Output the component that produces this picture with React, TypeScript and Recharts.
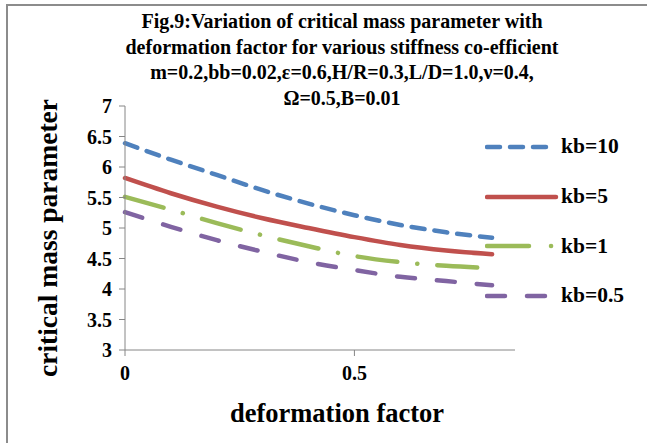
import { LineChart, Line, XAxis, YAxis, Legend } from 'recharts'

const FONT = '"Liberation Serif", "Times New Roman", serif'

// deformation factor (x) and critical mass parameter for each stiffness co-efficient
const deformation = [0, 0.1, 0.2, 0.3, 0.4, 0.5, 0.6, 0.7, 0.8]
const kb10 = [6.39, 6.12, 5.87, 5.62, 5.4, 5.21, 5.05, 4.93, 4.84]
const kb5 = [5.82, 5.57, 5.35, 5.16, 5.0, 4.85, 4.72, 4.63, 4.57]
const kb1 = [5.51, 5.3, 5.08, 4.88, 4.7, 4.54, 4.44, 4.38, 4.34]
const kb05 = [5.26, 5.02, 4.8, 4.61, 4.44, 4.31, 4.2, 4.13, 4.06]

const seriesNames = ['kb=10', 'kb=5', 'kb=1', 'kb=0.5']
const xTicks = [0, 0.5]
const yTicks = [3, 3.5, 4, 4.5, 5, 5.5, 6, 6.5, 7]

const titleLines = [
  'Fig.9:Variation of critical mass parameter with',
  'deformation factor for various stiffness co-efficient',
  'm=0.2,bb=0.02,\u03b5=0.6,H/R=0.3,L/D=1.0,\u03bd=0.4,',
  '\u03a9=0.5,B=0.01',
]

const data = deformation.map((x, i) => ({
  x,
  kb10: kb10[i],
  kb5: kb5[i],
  kb1: kb1[i],
  kb05: kb05[i],
}))

const styles = [
  { key: 'kb10', color: '#4F81BD', dash: '13 10' },
  { key: 'kb5', color: '#C0504D', dash: undefined },
  { key: 'kb1', color: '#9BBB59', dash: '40 20 0.1 20' },
  { key: 'kb05', color: '#8064A2', dash: '18 22' },
]

function LegendBox() {
  return (
    <div style={{ fontFamily: FONT }}>
      {seriesNames.map((name, i) => (
        <div key={name} style={{ height: 49.7, display: 'flex', alignItems: 'center' }}>
          <svg width={74} height={10}>
            <line
              x1={2}
              y1={5}
              x2={71}
              y2={5}
              stroke={styles[i].color}
              strokeWidth={4.5}
              strokeLinecap="round"
              strokeDasharray={i === 2 ? '42 22 0.1 100' : styles[i].dash}
            />
          </svg>
          <span style={{ fontFamily: FONT, fontSize: 21.5, fontWeight: 'bold', marginLeft: 2, color: '#000' }}>{name}</span>
        </div>
      ))}
    </div>
  )
}

// tick label in bold serif, like the rest of the figure
function XTick({ x, y, payload }: any) {
  return (
    <text x={x} y={y + 22} textAnchor="middle" style={{ fontFamily: FONT, fontSize: 20, fontWeight: 'bold' }} fill="#000">
      {payload.value}
    </text>
  )
}

function YTick({ x, y, payload }: any) {
  return (
    <text x={x} y={y + 7} textAnchor="end" style={{ fontFamily: FONT, fontSize: 20, fontWeight: 'bold' }} fill="#000">
      {payload.value}
    </text>
  )
}

export default function App() {
  return (
    <div style={{ position: 'absolute', left: 0, top: 0, width: 647, height: 443, background: '#fff', overflow: 'hidden' }}>
      <div
        style={{
          position: 'absolute',
          left: 6,
          top: 4,
          width: 700,
          height: 500,
          borderTop: '2px solid #8c8c8c',
          borderLeft: '2px solid #8c8c8c',
        }}
      />
      <div
        style={{
          position: 'absolute',
          left: 42,
          width: 600,
          top: 9,
          textAlign: 'center',
          fontFamily: FONT,
          fontWeight: 'bold',
          fontSize: 20,
          lineHeight: '25.5px',
        }}
      >
        {titleLines.map((t) => (
          <div key={t}>{t}</div>
        ))}
      </div>
      <div
        style={{
          position: 'absolute',
          left: 48,
          top: 238,
          transform: 'translate(-50%, -50%) rotate(-90deg)',
          whiteSpace: 'nowrap',
          fontFamily: FONT,
          fontWeight: 'bold',
          fontSize: 27.5,
        }}
      >
        critical mass parameter
      </div>
      <div
        style={{
          position: 'absolute',
          left: 337,
          top: 413,
          transform: 'translate(-50%, -50%)',
          whiteSpace: 'nowrap',
          fontFamily: FONT,
          fontWeight: 'bold',
          fontSize: 26.5,
        }}
      >
        deformation factor
      </div>
      <LineChart
        width={647}
        height={443}
        data={data}
        margin={{ top: 106, right: 132, left: 65, bottom: 63 }}
        style={{ position: 'absolute', left: 0, top: 0 }}
      >
        <XAxis
          dataKey="x"
          type="number"
          domain={[0, 0.85]}
          ticks={xTicks}
          height={30}
          tick={<XTick />}
          tickMargin={2}
          stroke="#868686"
          tickSize={6}
        />
        <YAxis
          type="number"
          domain={[3, 7]}
          ticks={yTicks}
          width={60}
          tick={<YTick />}
          tickMargin={7}
          stroke="#868686"
          tickSize={6}
          interval={0}
        />
        <Legend
          layout="vertical"
          align="center"
          verticalAlign="middle"
          content={() => <LegendBox />}
          wrapperStyle={{ left: 485, top: 122, width: 160 }}
        />
        {styles.map((s, i) => (
          <Line
            key={s.key}
            dataKey={s.key}
            name={seriesNames[i]}
            type="monotone"
            stroke={s.color}
            strokeWidth={4.5}
            strokeDasharray={s.dash}
            strokeLinecap="round"
            dot={false}
            isAnimationActive={false}
          />
        ))}
      </LineChart>
    </div>
  )
}
